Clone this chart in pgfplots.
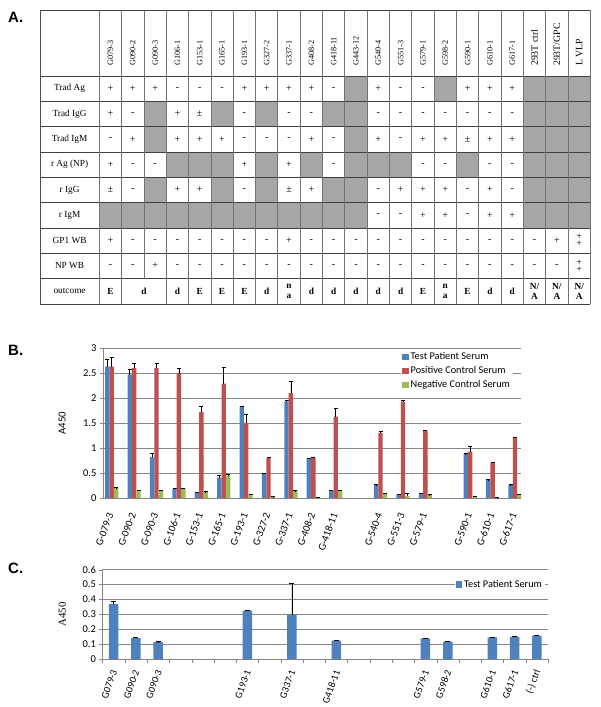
\documentclass[border=0pt]{standalone}
\usepackage{pgfplots}
\usepackage{pgfplotstable}
\pgfplotsset{compat=1.18}
\usepackage{fontspec}
\setmainfont{Liberation Serif}
\newfontfamily\carlito{Carlito}
\newfontfamily\arialf{Liberation Sans}
\definecolor{cblue}{HTML}{4F81BD}
\definecolor{cred}{HTML}{C0504D}
\definecolor{cgreen}{HTML}{9BBB59}
\definecolor{cellgray}{HTML}{A6A6A6}
\definecolor{gridc}{HTML}{868686}
\newcommand\tickfont{\carlito\fontsize{10.5}{12}\selectfont}
\newcommand\tickfontC{\carlito\fontsize{10}{12}\selectfont}
\newcommand\legfont{\carlito\fontsize{10.3}{12}\selectfont}

\def\cX{X}
\def\symp{+}\def\symm{-}\def\sympm{±}\def\sympp{+\\[-3pt]+}
\def\symE{E}\def\symd{d}\def\symD{\hspace*{22.32pt}d}\def\symN{}
\def\symna{n\\[-1pt]a}\def\symNA{N/\\[-1pt]A}

\newcommand\tabrow[3]{%
  \pgfmathsetmacro\ya{76+(#1-1)*25.33}%
  \pgfmathsetmacro\yc{\ya+12.67}%
  \pgfmathsetmacro\yb{\ya+25.33}%
  \node[font=\fontsize{9.3}{10}\selectfont, inner sep=0pt] at (69.6pt,-\yc pt) {#2};
  \foreach \v [count=\c] in {#3} {%
    \pgfmathsetmacro\xa{99.3+(\c-1)*22.32}%
    \pgfmathsetmacro\xb{\xa+22.32}%
    \pgfmathsetmacro\xc{\xa+11.16}%
    \edef\tmp{\v}%
    \ifx\tmp\cX
      \fill[cellgray] (\xa pt,-\ya pt) rectangle (\xb pt,-\yb pt);
    \else
      \node[font=\fontsize{10}{10}\selectfont, inner sep=0pt, align=center] at (\xc pt,-\yc pt) {\csname sym\tmp\endcsname};
    \fi
  }%
}

\pgfplotstableread{
x b eb r er g eg
0 2.63 0.14 2.63 0.19 0.20 0.005
1 2.47 0.10 2.60 0.09 0.15 0.005
2 0.82 0.07 2.60 0.09 0.15 0.005
3 0.18 0.02 2.49 0.10 0.19 0.01
4 0.11 0.01 1.72 0.11 0.12 0.01
5 0.41 0.05 2.29 0.33 0.45 0.02
6 1.83 0.01 1.50 0.18 0.07 0.005
7 0.48 0.02 0.80 0.02 0.02 0.005
8 1.93 0.02 2.10 0.24 0.14 0.01
9 0.79 0.01 0.80 0.02 0.01 0.005
10 0.15 0.01 1.63 0.16 0.15 0.01
12 0.26 0.01 1.30 0.03 0.09 0.005
13 0.07 0.01 1.93 0.02 0.04 0.05
14 0.09 0.005 1.35 0.01 0.06 0.005
16 0.88 0.01 0.93 0.10 0.03 0.005
17 0.36 0.01 0.71 0.01 0.005 0.005
18 0.26 0.01 1.21 0.01 0.07 0.005
}\tabB

\pgfplotstableread{
x y ey
0 0.370 0.020
1 0.141 0.004
2 0.114 0.003
6 0.325 0.002
8 0.296 0.214
10 0.123 0.002
14 0.139 0.003
15 0.117 0.002
17 0.146 0.003
18 0.148 0.004
19 0.157 0.0
}\tabC

\begin{document}
\begin{tikzpicture}
\path[use as bounding box] (0pt,0pt) rectangle (600pt,-707pt);
\fill[white] (0pt,0pt) rectangle (600pt,-707pt);

% panel labels
\node[font=\arialf\bfseries\fontsize{15}{15}\selectfont, anchor=north west, inner sep=0pt] at (8pt,-12pt) {A.};
\node[font=\arialf\bfseries\fontsize{15}{15}\selectfont, anchor=north west, inner sep=0pt] at (8pt,-345pt) {B.};
\node[font=\arialf\bfseries\fontsize{15}{15}\selectfont, anchor=north west, inner sep=0pt] at (8pt,-563pt) {C.};

% ---------- table A ----------
\foreach \h [count=\c] in {G079-3,G090-2,G090-3,G106-1,G153-1,G165-1,G193-1,G327-2,G337-1,G408-2,G418-11,G443-12,G540-4,G551-3,G579-1,G598-2,G590-1,G610-1,G617-1}{%
  \pgfmathsetmacro\xc{99.3+(\c-0.5)*22.32}%
  \node[rotate=90, anchor=west, inner sep=0pt, font=\fontsize{8.2}{9}\selectfont] at (\xc pt,-66pt) {\h};
}
\foreach \h [count=\c from 20] in {293T ctrl,293T/GPC,L VLP}{%
  \pgfmathsetmacro\xc{99.3+(\c-0.5)*22.32}%
  \node[rotate=90, anchor=west, inner sep=0pt, font=\fontsize{9.8}{10}\selectfont] at (\xc pt,-66pt) {\h};
}
\tabrow{1}{Trad Ag}{p,p,p,m,m,m,p,p,p,p,m,X,p,m,m,X,p,p,p,X,X,X}
\tabrow{2}{Trad IgG}{p,m,X,p,pm,X,m,X,m,m,X,X,m,m,m,m,m,m,m,X,X,X}
\tabrow{3}{Trad IgM}{m,p,X,p,p,p,m,m,m,p,m,X,p,m,p,p,pm,p,p,X,X,X}
\tabrow{4}{r Ag (NP)}{p,m,m,X,X,X,p,X,p,X,m,X,X,X,m,m,X,m,m,X,X,X}
\tabrow{5}{r IgG}{pm,m,X,p,p,X,m,X,pm,p,X,X,m,p,p,p,m,p,m,X,X,X}
\tabrow{6}{r IgM}{X,X,X,X,X,X,X,X,X,X,X,X,m,m,p,p,m,p,p,X,X,X}
\tabrow{7}{GP1 WB}{p,m,m,m,m,m,m,m,p,m,m,m,m,m,m,m,m,m,m,m,p,pp}
\tabrow{8}{NP WB}{m,m,p,m,m,m,m,m,m,m,m,m,m,m,m,m,m,m,m,m,m,pp}
% outcome row
\node[font=\fontsize{9.3}{10}\selectfont, inner sep=0pt] at (69.6pt,-291.3pt) {outcome};
\foreach \v [count=\c] in {E,D,N,d,E,E,E,d,na,d,d,d,d,d,E,na,E,d,d,NA,NA,NA}{%
  \pgfmathsetmacro\xc{99.3+(\c-0.5)*22.32}%
  \edef\tmp{\v}%
  \node[font=\bfseries\fontsize{9.3}{10.5}\selectfont, inner sep=0pt, align=center] at (\xc pt,-291.3pt) {\csname sym\tmp\endcsname};
}
% grid lines
\draw[black!75, line width=0.55pt] (40pt,-10pt) -- (590.3pt,-10pt);
\foreach \j in {0,...,9}{%
  \pgfmathsetmacro\yy{76+\j*25.33}%
  \draw[black!75, line width=0.55pt] (40pt,-\yy pt) -- (590.3pt,-\yy pt);
}
\draw[black!70, line width=0.7pt] (40pt,-10pt) -- (40pt,-304pt);
\foreach \k in {0,...,22}{%
  \pgfmathsetmacro\xx{99.3+\k*22.32}%
  \ifnum\k=2
    \draw[black!55, line width=0.8pt] (\xx pt,-10pt) -- (\xx pt,-279pt);
  \else
    \draw[black!55, line width=0.8pt] (\xx pt,-10pt) -- (\xx pt,-304pt);
  \fi
}

% ---------- panel B ----------
\begin{axis}[
  at={(103pt,-498pt)}, anchor=south west,
  width=418pt, height=150pt, scale only axis,
  xmin=-0.39, xmax=18.27, ymin=0, ymax=3,
  ybar=0pt, bar width=4.4pt,
  legend image code/.code={\path[#1,draw=none] (0pt,-3.2pt) rectangle (6.4pt,3.2pt);},
  axis x line*=bottom, axis y line*=left,
  axis line style={draw=gridc,-},
  ytick={0,0.5,1,1.5,2,2.5,3},
  xtick={0,...,18},
  xticklabels={G-079-3,G-090-2,G-090-3,G-106-1,G-153-1,G-165-1,G-193-1,G-327-2,G-337-1,G-408-2,G-418-11,,G-540-4,G-551-3,G-579-1,,G-590-1,G-610-1,G-617-1},
  x tick label style={yshift=-9pt, rotate=70, anchor=east, font=\tickfont},
  y tick label style={font=\tickfont},
  /pgf/number format/assume math mode=true,
  x tick style={draw=none},
  y tick style={draw=gridc},
  tick align=outside, major tick length=3pt,
  ymajorgrids, grid style={draw=gridc, line width=0.5pt},
  ylabel={A450},
  ylabel style={at={(axis description cs:-0.098,0.5)}, anchor=center, font=\carlito\fontsize{10.8}{12}\selectfont},
  error bars/y dir=plus, error bars/y explicit,
  error bars/error bar style={black, line width=0.6pt},
  error bars/error mark options={rotate=90, mark size=2pt, black, line width=0.6pt},
  legend style={at={(0.713,0.99)}, anchor=north west, draw=none, fill=white, inner sep=1pt, row sep=1.3pt, font=\legfont},
  legend cell align=left,
]
\addplot[fill=cblue, draw=none] table[x=x, y=b, y error=eb] {\tabB};
\addplot[fill=cred, draw=none] table[x=x, y=r, y error=er] {\tabB};
\addplot[fill=cgreen, draw=none] table[x=x, y=g, y error=eg] {\tabB};
\legend{Test Patient Serum, Positive Control Serum, Negative Control Serum}
\end{axis}

% ---------- panel C ----------
\begin{axis}[
  at={(102.5pt,-659pt)}, anchor=south west,
  width=445.5pt, height=89.3pt, scale only axis,
  xmin=-0.5, xmax=19.5, ymin=0, ymax=0.6,
  ybar, bar width=9.5pt,
  legend image code/.code={\path[#1,draw=none] (0pt,-3.2pt) rectangle (6.4pt,3.2pt);},
  axis x line*=bottom, axis y line*=left,
  axis line style={draw=gridc,-},
  ytick={0,0.1,0.2,0.3,0.4,0.5,0.6},
  xtick={0,1,2,6,8,10,14,15,17,18,19},
  xticklabels={G079-3,G090-2,G090-3,G193-1,G337-1,G418-11,G579-1,G598-2,G610-1,G617-1,(-) ctrl},
  minor xtick={-0.5,0.5,...,19.5},
  x tick label style={yshift=-5pt, xshift=2pt, rotate=70, anchor=east, font=\tickfontC},
  y tick label style={font=\tickfont},
  /pgf/number format/assume math mode=true,
  major x tick style={draw=none},
  minor x tick style={draw=gridc},
  y tick style={draw=gridc},
  tick align=outside, major tick length=3pt, minor tick length=4pt,
  ymajorgrids, grid style={draw=gridc, line width=0.5pt},
  ylabel={A450},
  ylabel style={at={(axis description cs:-0.09,0.5)}, anchor=center, font=\fontsize{10.8}{12}\selectfont},
  error bars/y dir=plus, error bars/y explicit,
  error bars/error bar style={black, line width=0.6pt},
  error bars/error mark options={rotate=90, mark size=2.5pt, black, line width=0.6pt},
  legend style={at={(0.79,0.918)}, anchor=north west, draw=none, fill=white, inner sep=1pt, font=\legfont},
  legend cell align=left,
]
\addplot[fill=cblue, draw=none] table[x=x, y=y, y error=ey] {\tabC};
\legend{Test Patient Serum}
\end{axis}
\end{tikzpicture}
\end{document}
